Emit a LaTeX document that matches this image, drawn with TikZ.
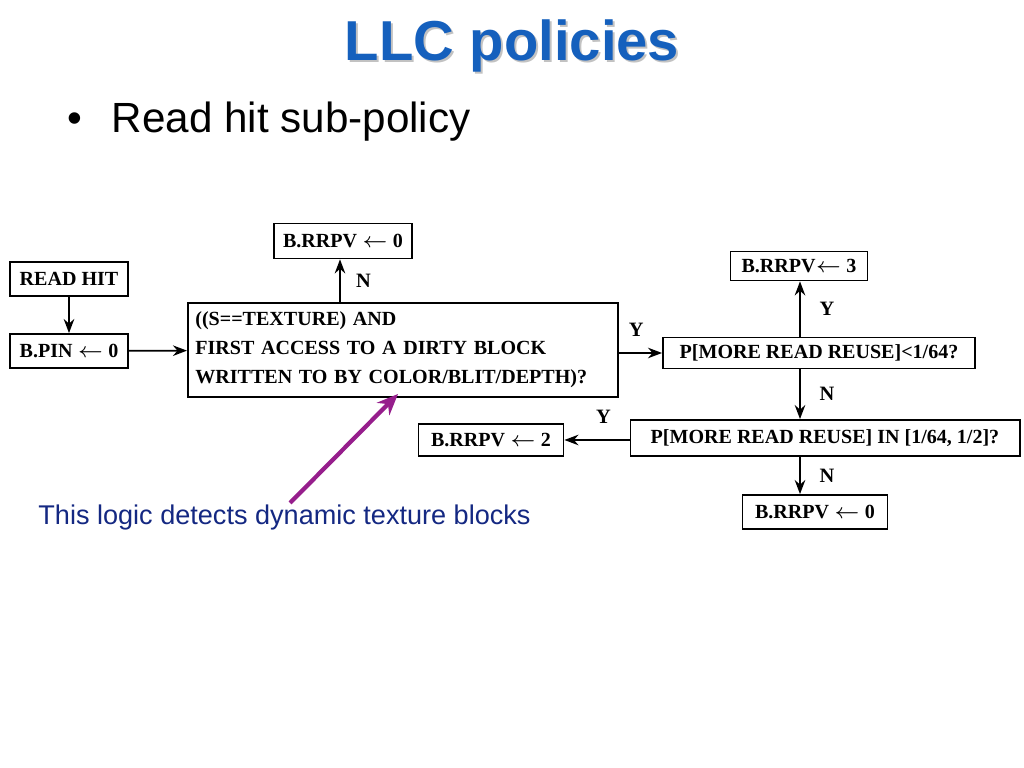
\documentclass[tikz,border=0pt]{standalone}
\usepackage{fontspec}
\setmainfont{Liberation Serif}
\newfontfamily\sansf{Liberation Sans}
\usetikzlibrary{arrows.meta}
\definecolor{titleblue}{RGB}{21,96,189}
\definecolor{labnavy}{RGB}{20,40,130}
\definecolor{arrpurple}{RGB}{150,30,140}
\begin{document}
\begin{tikzpicture}[x=0.01cm,y=-0.01cm,
  box/.style={draw,line width=0.5pt,inner sep=0pt,font=\fontsize{5.7}{8.2}\selectfont\bfseries,align=center},
  arr/.style={-{Stealth[length=4pt,width=3pt]},line width=0.5pt},
  lab/.style={font=\fontsize{5.8}{7}\selectfont\bfseries}]
\useasboundingbox (0,0) rectangle (1024,768);
\node[font=\sansf\fontsize{16}{18}\selectfont\bfseries,text=black!40,opacity=0.6] at (514,48) {LLC policies};
\node[font=\sansf\fontsize{16}{18}\selectfont\bfseries,text=titleblue] (title) at (512,46) {LLC policies};
\node[font=\sansf\fontsize{12}{14}\selectfont,anchor=west] (bul) at (55,122) {\textbullet\hspace{0.7em}Read hit sub-policy};
\node[box,minimum width=1.18cm,minimum height=0.34cm] (rh) at (69,279) {READ HIT};
\node[box,minimum width=1.18cm,minimum height=0.34cm] (pin) at (69,351) {B.PIN $\leftarrow$ 0};
\node[box,minimum width=4.30cm,minimum height=0.94cm,text width=4.15cm,align=left] (big) at (403,350) {((S==TEXTURE) AND\\FIRST ACCESS TO A DIRTY BLOCK\\WRITTEN TO BY COLOR/BLIT/DEPTH)?};
\node[box,minimum width=1.38cm,minimum height=0.35cm] (r0t) at (343,241) {B.RRPV $\leftarrow$ 0};
\node[box,minimum width=3.12cm,minimum height=0.31cm] (p1) at (819,353) {P[MORE READ REUSE]<1/64?};
\node[box,minimum width=1.37cm,minimum height=0.29cm] (r3) at (799,266) {B.RRPV$\leftarrow$ 3};
\node[box,minimum width=3.89cm,minimum height=0.36cm] (p2) at (825,438) {P[MORE READ REUSE] IN [1/64, 1/2]?};
\node[box,minimum width=1.45cm,minimum height=0.32cm] (r2) at (491,440) {B.RRPV $\leftarrow$ 2};
\node[box,minimum width=1.45cm,minimum height=0.34cm] (r0b) at (815,512) {B.RRPV $\leftarrow$ 0};
\draw[arr] (rh) -- (pin);
\draw[arr] (pin) -- (big);
\coordinate (bt) at (big.north -| 340,0);
\draw[arr] (bt) -- (bt |- r0t.south) node[lab,pos=0.5,right=1pt] {N};
\draw[arr] (big.east |- p1) -- (p1.west) node[lab,pos=0.4,above=1pt] {Y};
\coordinate (p1t) at (p1.north -| 800,0);
\draw[arr] (p1t) -- (p1t |- r3.south) node[lab,pos=0.5,right=2pt] {Y};
\coordinate (p1b) at (p1.south -| 800,0);
\draw[arr] (p1b) -- (p1b |- p2.north) node[lab,pos=0.5,right=2pt] {N};
\draw[arr] (p2.west |- r2) -- (r2.east) node[lab,pos=0.4,above=1pt] {Y};
\coordinate (p2b) at (p2.south -| 800,0);
\draw[arr] (p2b) -- (p2b |- r0b.north) node[lab,pos=0.5,right=2pt] {N};
\node[font=\sansf\fontsize{7.7}{9}\selectfont,text=labnavy,anchor=west] (note) at (26,518) {This logic detects dynamic texture blocks};
\coordinate (tail) at (290,503);
\coordinate (tip) at (398,394);
\draw[-{Stealth[length=6pt,width=5pt]},arrpurple,line width=1.2pt] (tail) -- (tip);
\end{tikzpicture}
\end{document}
